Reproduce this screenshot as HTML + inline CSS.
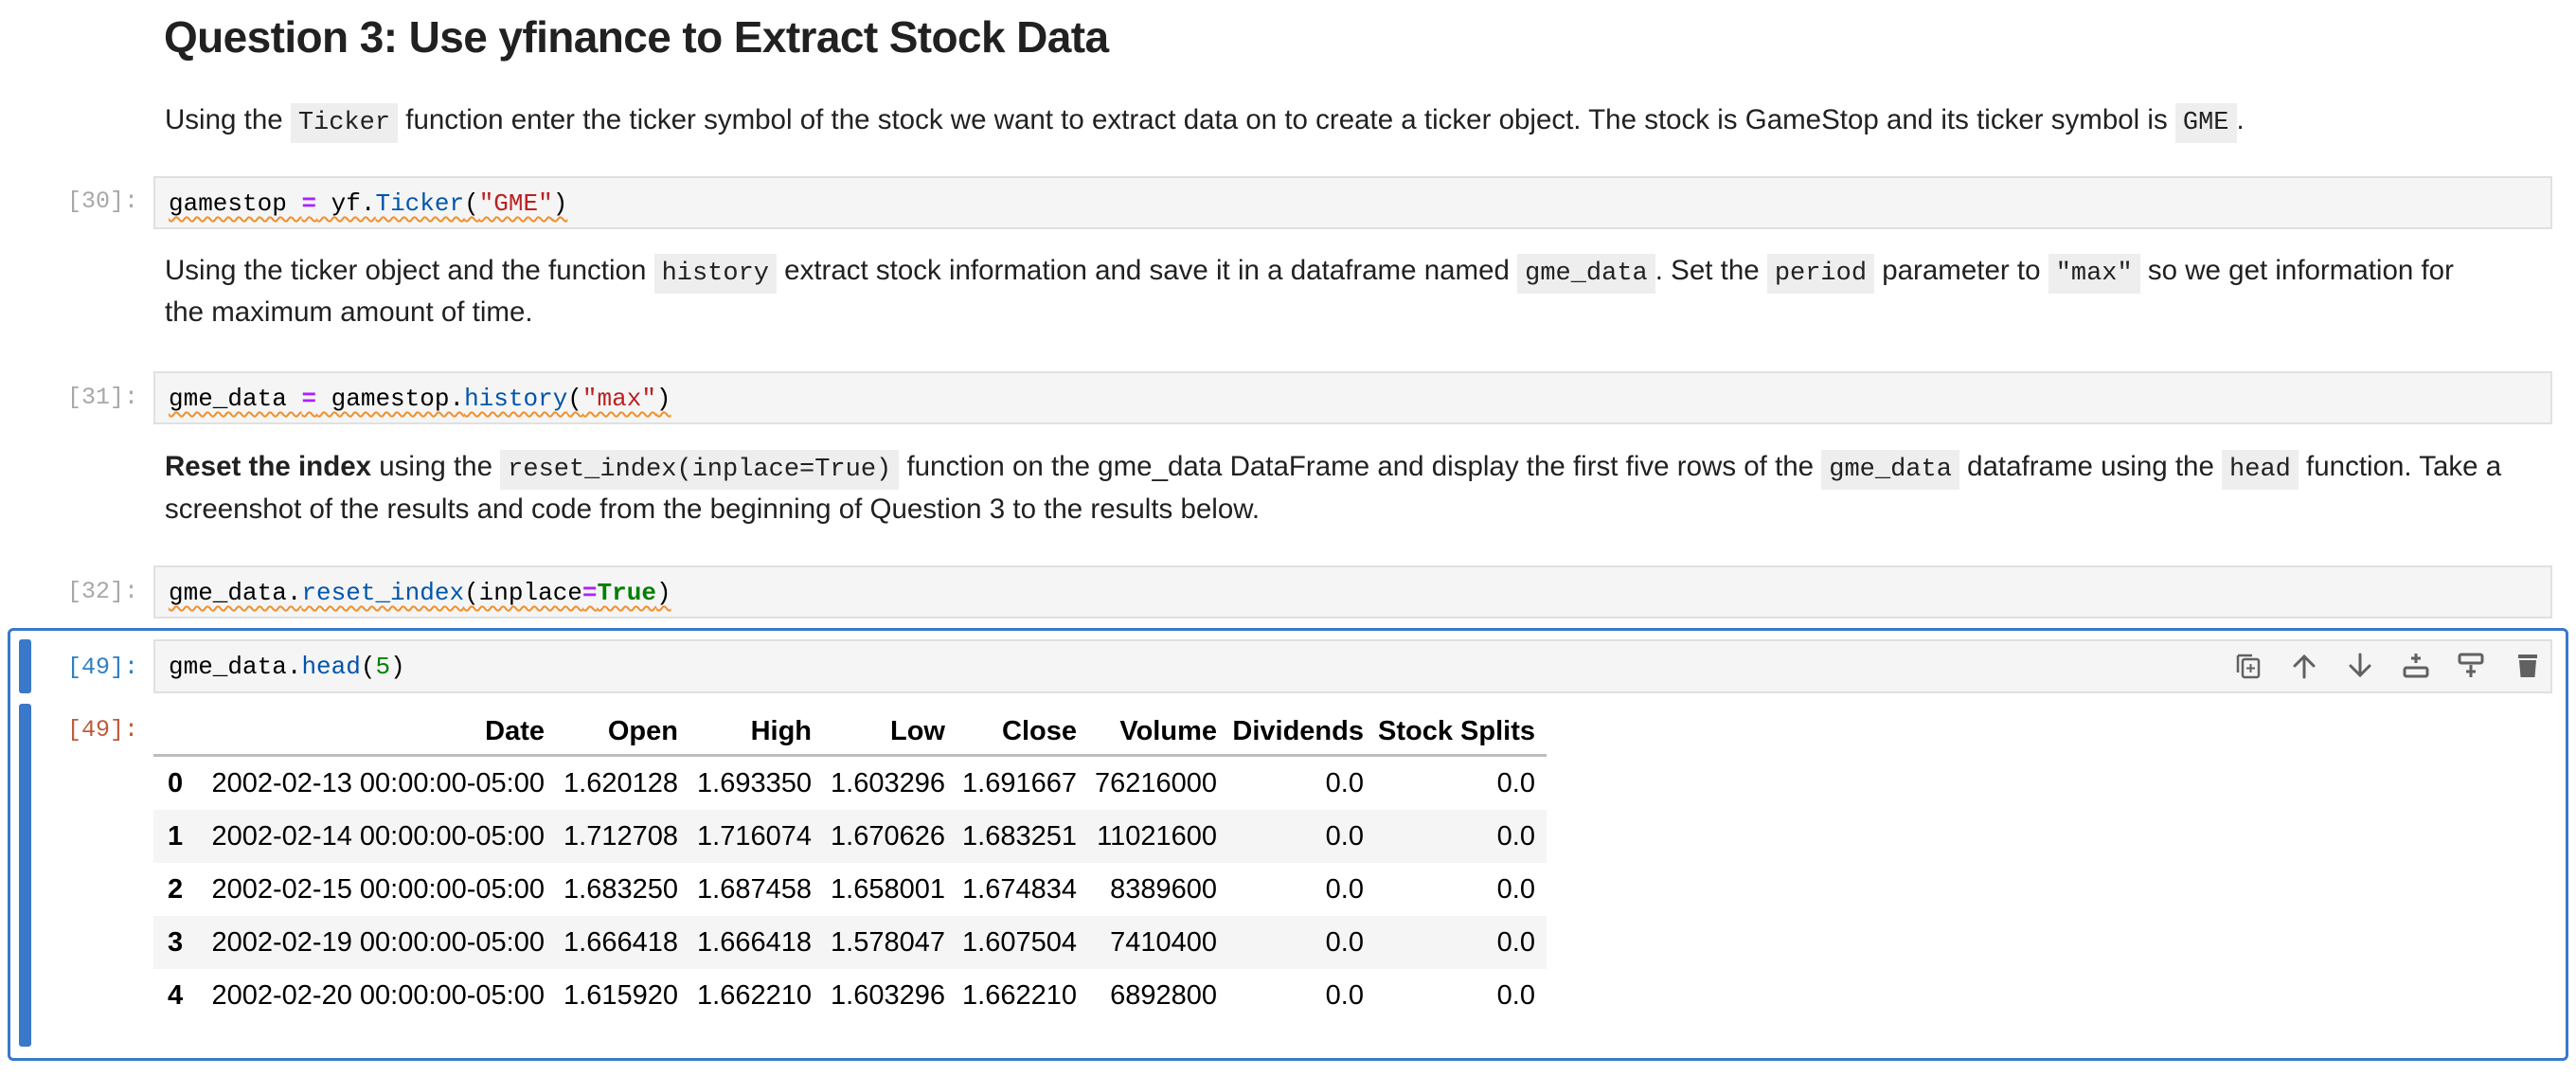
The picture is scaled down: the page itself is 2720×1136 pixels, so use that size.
<!DOCTYPE html>
<html><head><meta charset="utf-8">
<style>
html,body{margin:0;padding:0;background:#fff;}
body{width:2720px;height:1136px;position:relative;overflow:hidden;font-family:"Liberation Sans",sans-serif;color:#212121;}
.abs{position:absolute;white-space:nowrap;}
.p{font-size:29.5px;line-height:44px;left:174px;}
.ic{font-family:"Liberation Mono",monospace;font-size:27px;background:#eee;padding:6px 8px;}
.cell{position:absolute;left:162px;width:2533px;background:#f5f5f5;border:2px solid #e0e0e0;box-sizing:border-box;}
.code{position:absolute;left:14px;font-family:"Liberation Mono",monospace;font-size:26px;color:#000;text-decoration:underline wavy #f0902c;text-decoration-thickness:1.5px;text-underline-offset:6px;}
.prompt{position:absolute;font-family:"Liberation Mono",monospace;font-size:25px;color:#a8a8a8;text-align:right;width:80px;left:66px;}
.op{color:#aa22ff;font-weight:bold;}
.fn{color:#0055aa;}
.st{color:#ba2121;}
.kw{color:#008000;font-weight:bold;}
.nm{color:#008000;}
table{position:absolute;left:162px;top:748px;border-collapse:collapse;font-size:29px;color:#000;table-layout:fixed;width:1471px;}
th,td{text-align:right;padding:0 12px 0 0;height:56px;white-space:nowrap;overflow:visible;}
th{font-weight:bold;height:48px;border-bottom:3px solid #bdbdbd;}
tbody tr:nth-child(even){background:#f5f5f5;}
td.i{font-weight:bold;text-align:left;padding-left:15px;}
.icon{position:absolute;top:689px;width:28px;height:28px;}
</style></head><body>
<div class="abs" style="left:173px;top:12px;font-size:46px;font-weight:bold;letter-spacing:-0.6px;color:#212121;">Question 3: Use yfinance to Extract Stock Data</div>

<div class="abs p" style="top:105px;">Using the <span class="ic">Ticker</span> function enter the ticker symbol of the stock we want to extract data on to create a ticker object. The stock is GameStop and its ticker symbol is <span class="ic">GME</span>.</div>

<div class="prompt" style="top:198px;">[30]:</div>
<div class="cell" style="top:186px;height:56px;"><span class="code" style="top:12px;">gamestop <span class="op">=</span> yf.<span class="fn">Ticker</span>(<span class="st">"GME"</span>)</span></div>

<div class="abs p" style="top:264px;">Using the ticker object and the function <span class="ic">history</span> extract stock information and save it in a dataframe named <span class="ic">gme_data</span>. Set the <span class="ic">period</span> parameter to <span class="ic">"max"</span> so we get information for</div>
<div class="abs p" style="top:308px;">the maximum amount of time.</div>

<div class="prompt" style="top:405px;">[31]:</div>
<div class="cell" style="top:392px;height:56px;"><span class="code" style="top:12px;">gme_data <span class="op">=</span> gamestop.<span class="fn">history</span>(<span class="st">"max"</span>)</span></div>

<div class="abs p" style="top:471px;"><b>Reset the index</b> using the <span class="ic">reset_index(inplace=True)</span> function on the gme_data DataFrame and display the first five rows of the <span class="ic">gme_data</span> dataframe using the <span class="ic">head</span> function. Take a</div>
<div class="abs p" style="top:516px;">screenshot of the results and code from the beginning of Question 3 to the results below.</div>

<div class="prompt" style="top:610px;">[32]:</div>
<div class="cell" style="top:597px;height:56px;"><span class="code" style="top:12px;">gme_data.<span class="fn">reset_index</span>(inplace<span class="op">=</span><span class="kw">True</span>)</span></div>

<div style="position:absolute;left:8px;top:663px;width:2704px;height:457px;border:3px solid #3a78c9;border-radius:6px;box-sizing:border-box;"></div>
<div style="position:absolute;left:20px;top:675px;width:13px;height:57px;background:#3a78c9;border-radius:3px;"></div>
<div style="position:absolute;left:20px;top:743px;width:13px;height:362px;background:#3a78c9;border-radius:3px;"></div>

<div class="prompt" style="top:690px;color:#307fc1;">[49]:</div>
<div class="cell" style="top:675px;height:57px;"><span class="code" style="top:12px;text-decoration:none;">gme_data.<span class="fn">head</span>(<span class="nm">5</span>)</span></div>

<svg class="icon" style="left:2360px;" viewBox="0 0 28 28"><path d="M3 3h15M3 3v18" stroke="#616161" stroke-width="2.5" fill="none"/><rect x="8" y="7" width="17" height="19" rx="2" stroke="#616161" stroke-width="2.5" fill="none"/><path d="M16.5 12v9M12 16.5h9" stroke="#616161" stroke-width="2"/></svg>
<svg class="icon" style="left:2419px;" viewBox="0 0 28 28"><path d="M14 26V4M4 14L14 4L24 14" stroke="#616161" stroke-width="3" fill="none" stroke-linecap="round"/></svg>
<svg class="icon" style="left:2478px;" viewBox="0 0 28 28"><path d="M14 2v22M4 14l10 10l10-10" stroke="#616161" stroke-width="3" fill="none" stroke-linecap="round"/></svg>
<svg class="icon" style="left:2537px;" viewBox="0 0 28 28"><path d="M14 1v10M9 6h10" stroke="#616161" stroke-width="3"/><rect x="2" y="16" width="24" height="9" rx="2" stroke="#616161" stroke-width="3" fill="none"/></svg>
<svg class="icon" style="left:2595px;" viewBox="0 0 28 28"><rect x="2" y="2" width="24" height="9" rx="2" stroke="#616161" stroke-width="3" fill="none"/><path d="M14 13v13M9 20h10" stroke="#616161" stroke-width="3"/></svg>
<svg class="icon" style="left:2655px;" viewBox="0 0 28 28"><rect x="4" y="2" width="20" height="4" fill="#616161"/><path d="M5 8h18l-1.5 18h-15z" fill="#616161"/></svg>

<div class="prompt" style="top:756px;color:#bf5b3d;">[49]:</div>

<table>
<colgroup><col style="width:38px"><col style="width:387px"><col style="width:141px"><col style="width:141px"><col style="width:141px"><col style="width:139px"><col style="width:148px"><col style="width:155px"><col style="width:181px"></colgroup>
<thead><tr><th></th><th>Date</th><th>Open</th><th>High</th><th>Low</th><th>Close</th><th>Volume</th><th>Dividends</th><th>Stock Splits</th></tr></thead>
<tbody>
<tr><td class="i">0</td><td>2002-02-13 00:00:00-05:00</td><td>1.620128</td><td>1.693350</td><td>1.603296</td><td>1.691667</td><td>76216000</td><td>0.0</td><td>0.0</td></tr>
<tr><td class="i">1</td><td>2002-02-14 00:00:00-05:00</td><td>1.712708</td><td>1.716074</td><td>1.670626</td><td>1.683251</td><td>11021600</td><td>0.0</td><td>0.0</td></tr>
<tr><td class="i">2</td><td>2002-02-15 00:00:00-05:00</td><td>1.683250</td><td>1.687458</td><td>1.658001</td><td>1.674834</td><td>8389600</td><td>0.0</td><td>0.0</td></tr>
<tr><td class="i">3</td><td>2002-02-19 00:00:00-05:00</td><td>1.666418</td><td>1.666418</td><td>1.578047</td><td>1.607504</td><td>7410400</td><td>0.0</td><td>0.0</td></tr>
<tr><td class="i">4</td><td>2002-02-20 00:00:00-05:00</td><td>1.615920</td><td>1.662210</td><td>1.603296</td><td>1.662210</td><td>6892800</td><td>0.0</td><td>0.0</td></tr>
</tbody></table>
</body></html>
